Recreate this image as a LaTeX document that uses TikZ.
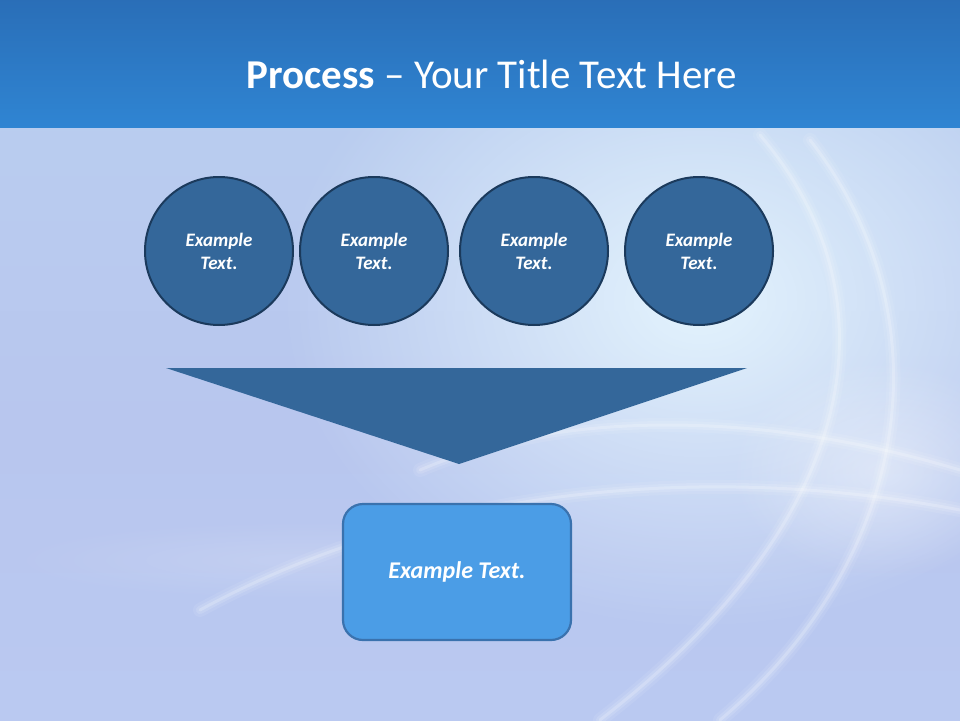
\documentclass[tikz,border=0pt]{standalone}
\usepackage{fontspec}
\setmainfont{Carlito}
\usetikzlibrary{fadings}
\definecolor{hdrtop}{HTML}{2763AA}
\definecolor{hdrbot}{HTML}{3290E0}
\definecolor{bgA}{HTML}{6CA8EA}
\definecolor{bgB}{HTML}{BAD0F0}
\definecolor{bgC}{HTML}{B8C6EE}
\definecolor{bgD}{HTML}{BCCCF4}
\definecolor{glowc}{HTML}{E6F6FE}
\definecolor{circfill}{HTML}{34679A}
\definecolor{circline}{HTML}{1B3A5C}
\definecolor{boxfill}{HTML}{4B9DE6}
\definecolor{boxline}{HTML}{3A72AE}
\pgfdeclareverticalshading{hdrsh}{100bp}{color(0bp)=(hdrbot); color(100bp)=(hdrtop)}
\pgfdeclareverticalshading{bgsh}{100bp}{color(0bp)=(bgD); color(50bp)=(bgC); color(88bp)=(bgB); color(100bp)=(bgA)}
\tikzfading[name=softglow, inner color=transparent!0, outer color=transparent!100]
\tikzset{
  stepcirc/.style={circle, minimum size=148pt, inner sep=0pt, fill=circfill, draw=circline, line width=2pt,
    text=white, align=center, font=\fontsize{19}{23}\selectfont\bfseries\itshape},
  resultbox/.style={rectangle, rounded corners=20pt, minimum width=228pt, minimum height=136pt, inner sep=0pt,
    fill=boxfill, draw=boxline, line width=2.2pt, text=white, font=\fontsize{24}{28}\selectfont\bfseries\itshape},
  funnel/.style={fill=circfill, draw=none},
  swirl/.style={white, line cap=round},
}
\begin{document}
\begin{tikzpicture}[x=1pt,y=-1pt]
\useasboundingbox (0,0) rectangle (960,720);
% background
\shade[shading=bgsh] (0,127) rectangle (960,720);
\fill[glowc, opacity=0.95, path fading=softglow] (700,300) ellipse (420 and 330);
\fill[white, opacity=0.4, path fading=softglow] (880,470) ellipse (150 and 110);
% swirls
\foreach \w/\o in {14/0.08, 8/0.12, 3/0.2} {
  \draw[swirl, opacity=\o, line width=\w pt] (760,135) .. controls (900,300) and (860,520) .. (600,720);
  \draw[swirl, opacity=\o, line width=\w pt] (810,140) .. controls (950,320) and (910,560) .. (720,720);
  \draw[swirl, opacity=\o, line width=\w pt] (420,470) .. controls (560,410) and (760,410) .. (960,470);
  \draw[swirl, opacity=\o, line width=\w pt] (200,610) .. controls (420,490) and (700,460) .. (960,510);
}
\fill[white, opacity=0.15, path fading=softglow] (300,560) ellipse (300 and 40);
% header
\shade[shading=hdrsh] (0,0) rectangle (960,127);
\node[text=white, font=\fontsize{41}{45}\selectfont, anchor=base] (title) at (492,88)
  {\textbf{Process} – Your Title Text Here};
% circles
\node[stepcirc] (c1) at (219,251) {Example\\Text.};
\node[stepcirc] (c2) at (374,251) {Example\\Text.};
\node[stepcirc] (c3) at (534,251) {Example\\Text.};
\node[stepcirc] (c4) at (699,251) {Example\\Text.};
% funnel
\coordinate (fl) at (166,368);
\coordinate (fr) at (747,368);
\coordinate (fa) at (459,464);
\fill[funnel] (fl) -- (fr) -- (fa) -- cycle;
% result box
\node[resultbox] (res) at (457,572) {Example Text.};
\end{tikzpicture}
\end{document}
